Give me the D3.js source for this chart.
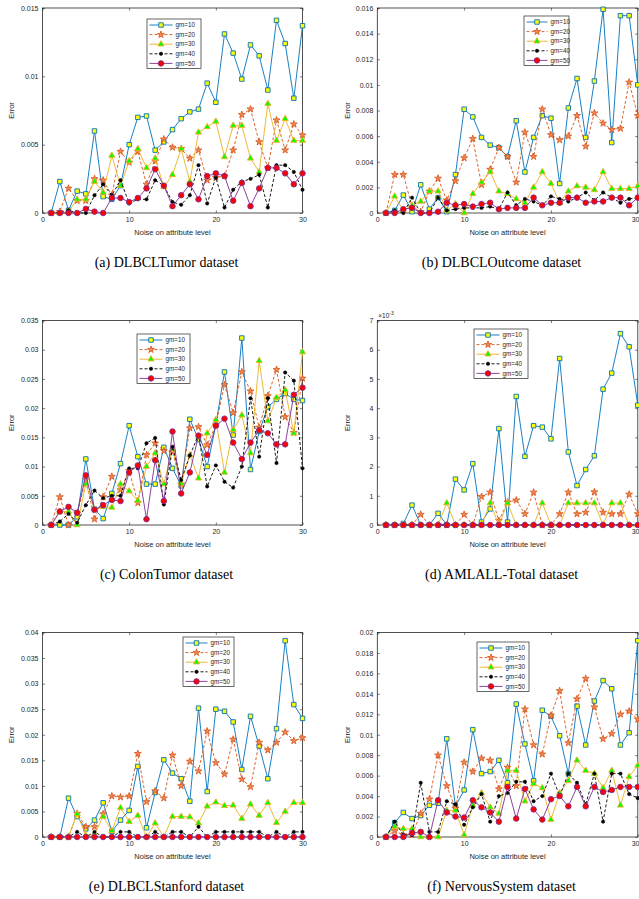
<!DOCTYPE html>
<html><head><meta charset="utf-8">
<script src="https://cdn.jsdelivr.net/npm/d3@7"></script>
<style>body{margin:0;background:#fff}svg{display:block}</style>
</head><body>
<svg id="chart" width="639" height="899"></svg>
<script>
// ---------- DATA ----------
const noise = d3.range(1, 31);
const xTicks = [0, 10, 20, 30];
const seriesNames = ["gm=10", "gm=20", "gm=30", "gm=40", "gm=50"];
const captions = ["(a) DLBCLTumor dataset", "(b) DLBCLOutcome dataset", "(c) ColonTumor dataset",
                  "(d) AMLALL-Total dataset", "(e) DLBCLStanford dataset", "(f) NervousSystem dataset"];

// (a) DLBCLTumor
const a10 = [0,0.0023,0.0002,0.0016,0.0014,0.006,0.0012,0.001,0.002,0.005,0.007,0.0071,0.0046,0.0052,0.0061,0.0069,0.0074,0.0076,0.0095,0.0081,0.0131,0.0117,0.0098,0.0123,0.0115,0.009,0.0141,0.0124,0.0084,0.0137];
const a20 = [0,0.0001,0.0018,0.0009,0.0009,0.0025,0.0024,0.0013,0.0045,0.0037,0.0045,0.0021,0.0038,0.0054,0.0048,0.0047,0.004,0.0046,0.0024,0.0026,0.0027,0.0046,0.0072,0.0076,0.0052,0.0033,0.0068,0.0046,0.0065,0.0057];
const a30 = [0,0,0.0001,0.001,0.001,0.0023,0.0015,0.0042,0.002,0.0038,0.0047,0.0033,0.004,0.0019,0.0028,0.0047,0.0023,0.0059,0.0063,0.0067,0.0041,0.0064,0.0064,0.004,0.003,0.008,0.0053,0.0069,0.0053,0.0053];
const a40 = [0,0,0.0002,0,0,0.0013,0.0021,0.0013,0.0024,0.0007,0.001,0.001,0.0024,0.002,0.0008,0.0006,0.0013,0.0035,0.0007,0.0026,0.0004,0.0017,0.0023,0.0025,0.0028,0.0004,0.0035,0.0035,0.003,0.0017];
const a50 = [0,0,0,0,0.0003,0.0001,0,0.0011,0.0011,0.0008,0.0011,0.0018,0.0032,0.002,0.0005,0.0013,0.0021,0.001,0.0027,0.0029,0.0027,0.0009,0.0022,0.0005,0.0018,0.0033,0.0033,0.0029,0.0021,0.0029];
const aTicks = [0, 0.005, 0.01, 0.015];
const aTickLabels = ["0", "0.005", "0.01", "0.015"];

// (b) DLBCLOutcome
const b10 = [0,0.0002,0.0014,0.0001,0.0022,0.0003,0.0012,0.0001,0.003,0.0081,0.0075,0.0059,0.0053,0.0051,0.0044,0.0072,0.0032,0.0059,0.0076,0.0074,0.0023,0.0082,0.0105,0.0059,0.0103,0.0159,0.0055,0.0154,0.0154,0.01];
const b20 = [0,0.003,0.003,0.0005,0.0001,0.0017,0.0027,0.001,0.0025,0.0043,0.0058,0.0022,0.0034,0.0051,0.0044,0.0024,0.0063,0.0044,0.0081,0.0061,0.0057,0.006,0.0076,0.0052,0.0078,0.007,0.0065,0.0066,0.0102,0.0076];
const b30 = [0,0.0013,0.0002,0.0006,0.0009,0.0017,0.0017,0.0002,0.0007,0,0.0015,0.0024,0.0032,0.0017,0.0015,0.0011,0.0008,0.002,0.0032,0.0023,0.0008,0.0017,0.0021,0.002,0.0018,0.0032,0.0019,0.0019,0.0019,0.0021];
const b40 = [0,0.0002,0,0.0012,0,0,0.0012,0.0002,0.0003,0.0004,0.0004,0.0004,0.0005,0.0003,0.0016,0.0006,0.0011,0.0009,0.0006,0.0013,0.0011,0.0009,0.0012,0.0016,0.001,0.0016,0.0012,0.0008,0.0011,0.0012];
const b50 = [0,0,0.0003,0.0004,0,0,0.0001,0.0008,0.0006,0.0007,0.0005,0.0007,0.0008,0.0003,0.0004,0.0004,0.0004,0.0012,0.0006,0.0008,0.0008,0.0012,0.0012,0.0008,0.0009,0.0009,0.0012,0.0012,0.0006,0.0012];
const bTicks = [0, 0.002, 0.004, 0.006, 0.008, 0.01, 0.012, 0.014, 0.016];
const bTickLabels = ["0", "0.002", "0.004", "0.006", "0.008", "0.01", "0.012", "0.014", "0.016"];

// (c) ColonTumor
const c10 = [0,0,0,0.0014,0.0113,0.0027,0.0011,0.0054,0.0105,0.017,0.0117,0.007,0.007,0.0133,0.0097,0.0067,0.0181,0.0146,0.01,0.0171,0.0262,0.0154,0.032,0.0095,0.016,0.0202,0.0215,0.0225,0.0215,0.0213];
const c20 = [0,0.0048,0,0.002,0.0078,0.001,0.0048,0.0083,0.006,0.0093,0.0038,0.012,0.014,0.0127,0.0125,0.007,0.0166,0.0168,0.0137,0.0171,0.024,0.0192,0.0262,0.0229,0.0167,0.0221,0.0266,0.0185,0.0158,0.0251];
const c30 = [0,0.0023,0.0023,0,0.007,0.0027,0.0031,0.003,0.007,0.0058,0.0042,0.01,0.0123,0.007,0.013,0.0071,0.012,0.008,0.0157,0.018,0.009,0.0163,0.0188,0.0123,0.0281,0.0178,0.0218,0.0231,0.0157,0.0296];
const c40 = [0,0.0006,0.0019,0.0004,0.0034,0.0059,0.0046,0.005,0.005,0.0097,0.0097,0.014,0.0149,0.0035,0.0134,0.0077,0.0119,0.0154,0.0066,0.0102,0.0074,0.0064,0.01,0.0217,0.0117,0.0217,0.0106,0.0261,0.0247,0.0097];
const c50 = [0,0.0023,0.0031,0.0021,0.0085,0.0026,0.0034,0.0043,0.0041,0.009,0.0102,0.001,0.0111,0.0041,0.016,0.0054,0.009,0.0153,0.012,0.017,0.0182,0.0141,0.0113,0.0141,0.0162,0.0157,0.0138,0.0138,0.0223,0.0235];
const cTicks = [0, 0.005, 0.01, 0.015, 0.02, 0.025, 0.03, 0.035];
const cTickLabels = ["0", "0.005", "0.01", "0.015", "0.02", "0.025", "0.03", "0.035"];

// (d) AMLALL-Total
const d10 = [0,0,0.05e-3,0.68e-3,0,0,0.4e-3,0,1.57e-3,1.2e-3,2.1e-3,0.1e-3,0.55e-3,3.3e-3,0.1e-3,4.4e-3,2.35e-3,3.4e-3,3.35e-3,2.95e-3,5.7e-3,2.5e-3,1.35e-3,1.9e-3,2.37e-3,4.65e-3,5.2e-3,6.55e-3,6.1e-3,4.1e-3];
const d20 = [0,0,0,0,0.36e-3,0,0,0,0,0.36e-3,0,0.97e-3,1.12e-3,0.15e-3,0.78e-3,0.85e-3,0.38e-3,1.12e-3,0,0,0.38e-3,1.12e-3,0.38e-3,0.43e-3,1.13e-3,0.43e-3,0.38e-3,0.38e-3,1.05e-3,0.38e-3];
const d30 = [0,0,0,0,0,0,0,0.75e-3,0,0,0,0,0.75e-3,0,0.75e-3,0,0,0,0.75e-3,0,0,0.75e-3,0.75e-3,0.75e-3,0.75e-3,0,0.75e-3,0.75e-3,0,0];
const d40 = [0,0,0,0,0,0,0,0,0,0,0,0,0,0,0,0,0,0,0,0,0,0,0,0,0,0,0,0,0,0];
const d50 = [0,0,0,0,0,0,0,0,0,0,0,0,0,0,0,0,0,0,0,0,0,0,0,0,0,0,0,0,0,0];
const dTicks = [0, 1e-3, 2e-3, 3e-3, 4e-3, 5e-3, 6e-3, 7e-3];
const dTickLabels = ["0", "1", "2", "3", "4", "5", "6", "7"];

// (e) DLBCLStanford
const e10 = [0,0,0.0076,0.004,0.0016,0.0033,0.0067,0.0011,0.0033,0.0052,0.0138,0.0018,0.0087,0.0151,0.0125,0.0114,0.007,0.0252,0.0089,0.025,0.0246,0.0225,0.0132,0.0236,0.0178,0.0114,0.0212,0.0384,0.0259,0.0232];
const e20 = [0,0,0,0.0046,0.002,0.002,0.0045,0.008,0.0078,0.008,0.0163,0.0069,0.009,0.0076,0.016,0.01,0.0148,0.0129,0.0207,0.0145,0.0123,0.0191,0.0113,0.0098,0.0185,0.017,0.0185,0.0205,0.0188,0.0194];
const e30 = [0,0,0,0.0045,0.0003,0.0005,0.004,0.0012,0.0057,0.003,0.0042,0,0.0027,0,0.004,0.004,0.0039,0.0027,0.006,0.0068,0.0061,0.0062,0.0036,0.0064,0.0042,0.0067,0.0028,0.005,0.0067,0.0067];
const e40 = [0,0,0,0.001,0,0.001,0,0,0.001,0.001,0,0,0.001,0,0.001,0.001,0,0.002,0,0.001,0.001,0.001,0.001,0.001,0.001,0,0.001,0,0.001,0.001];
const e50 = [0,0,0,0,0,0,0,0,0,0,0,0,0,0,0,0,0,0,0,0,0,0,0,0,0,0,0,0,0,0];
const eTicks = [0, 0.005, 0.01, 0.015, 0.02, 0.025, 0.03, 0.035, 0.04];
const eTickLabels = ["0", "0.005", "0.01", "0.015", "0.02", "0.025", "0.03", "0.035", "0.04"];

// (f) NervousSystem
const f10 = [0,0.0014,0.0024,0.0018,0.0021,0.0031,0.0033,0.0096,0.003,0.0046,0.0105,0.0062,0.0064,0.0075,0.0053,0.013,0.0091,0.0055,0.0124,0.0118,0.0099,0.0062,0.0128,0.009,0.0133,0.0153,0.0145,0.009,0.0102,0.0192];
const f20 = [0,0.0006,0.0002,0.0002,0.0023,0.0037,0.008,0.005,0.0028,0.0073,0.0064,0.0077,0.0075,0.0047,0.0068,0.005,0.0125,0.009,0.0081,0.0119,0.0143,0.0092,0.0135,0.0155,0.0127,0.0096,0.0101,0.012,0.0123,0.0115];
const f30 = [0,0.001,0.0008,0.0008,0,0,0,0.0026,0.0026,0.0002,0.0031,0.0043,0.0029,0.0023,0.0065,0.0065,0.0035,0.0052,0.0048,0.0017,0.0043,0.0055,0.0075,0.0065,0.0062,0.0048,0.0065,0.0031,0.0059,0.007];
const f40 = [0,0.0015,0.0002,0.0002,0.0053,0.0005,0.0005,0.0035,0.0032,0.0012,0.0029,0.0042,0.0015,0.004,0.0043,0.0054,0.0054,0.0035,0.004,0.0062,0.004,0.0062,0.0053,0.0032,0.0062,0.0015,0.0062,0.0062,0.0042,0.0038];
const f50 = [0,0,0,0.0004,0.0005,0,0.0036,0.0024,0.002,0.0019,0.0036,0.0029,0.0024,0.0015,0.0049,0.0018,0.0047,0.0027,0.0017,0.0037,0.004,0.003,0.0049,0.003,0.0049,0.0044,0.0046,0.0049,0.0049,0.0049];
const fTicks = [0, 0.002, 0.004, 0.006, 0.008, 0.01, 0.012, 0.014, 0.016, 0.018, 0.02];
const fTickLabels = ["0", "0.002", "0.004", "0.006", "0.008", "0.01", "0.012", "0.014", "0.016", "0.018", "0.02"];

// ---------- LAYOUT / STYLE ----------
const sans = "'Liberation Sans', Arial, Helvetica, sans-serif";
const serif = "'Liberation Serif', 'Times New Roman', serif";
const axisColor = "#262626";

const styles = [
  {line: "#0072BD", dash: null,  sym: d3.symbolSquare,   size: 20, fill: "#FFFF00", stroke: "#0072BD", sw: 0.9},
  {line: "#D95319", dash: "3,2", sym: d3.symbolStar,     size: 15, fill: "#EE8A55", stroke: "#D95319", sw: 0.8},
  {line: "#EDB120", dash: null,  sym: d3.symbolTriangle, size: 16, fill: "#00FF00", stroke: "#EDB120", sw: 0.9},
  {line: "#000000", dash: "3,2", sym: d3.symbolCircle,   size: 9,  fill: "#000000", stroke: "#000000", sw: 0.5},
  {line: "#7E2F8E", dash: null,  sym: d3.symbolCircle,   size: 24, fill: "#FF0000", stroke: "#7E2F8E", sw: 0.9}
];

const panels = [
  {x: 42.5,  y: 8,     w: 260,   h: 205, series: [a10,a20,a30,a40,a50], ticks: aTicks, labels: aTickLabels, leg: {x: 147, y: 19,  w: 54, line: 23}},
  {x: 377.3, y: 8,     w: 260.5, h: 205, series: [b10,b20,b30,b40,b50], ticks: bTicks, labels: bTickLabels, leg: {x: 524, y: 16,  w: 45, line: 21}},
  {x: 42.5,  y: 320.5, w: 260,   h: 204.5, series: [c10,c20,c30,c40,c50], ticks: cTicks, labels: cTickLabels, leg: {x: 137, y: 334, w: 53, line: 23}},
  {x: 377.3, y: 320.5, w: 260.5, h: 204.5, series: [d10,d20,d30,d40,d50], ticks: dTicks, labels: dTickLabels, leg: {x: 474, y: 329, w: 54, line: 23}, exponent: true},
  {x: 42.5,  y: 632.5, w: 260,   h: 204.5, series: [e10,e20,e30,e40,e50], ticks: eTicks, labels: eTickLabels, leg: {x: 183, y: 637, w: 51, line: 22}},
  {x: 377.3, y: 632.5, w: 260.5, h: 204.5, series: [f10,f20,f30,f40,f50], ticks: fTicks, labels: fTickLabels, leg: {x: 477, y: 642, w: 52, line: 23}}
];

const svg = d3.select("#chart");

panels.forEach((p, pi) => {
  const g = svg.append("g");
  const yMax = p.ticks[p.ticks.length - 1];
  const x = d3.scaleLinear().domain([0, 30]).range([p.x, p.x + p.w]);
  const y = d3.scaleLinear().domain([0, yMax]).range([p.y + p.h, p.y]);

  // axes via d3 (ticks pointing inward)
  const tl = 2.6;
  const bottom = g.append("g").attr("transform", `translate(0,${p.y + p.h})`)
    .call(d3.axisBottom(x).tickValues(xTicks).tickSizeInner(-tl).tickSizeOuter(0).tickPadding(4));
  const top = g.append("g").attr("transform", `translate(0,${p.y})`)
    .call(d3.axisTop(x).tickValues(xTicks).tickSizeInner(-tl).tickSizeOuter(0).tickFormat(""));
  const left = g.append("g").attr("transform", `translate(${p.x},0)`)
    .call(d3.axisLeft(y).tickValues(p.ticks).tickSizeInner(-tl).tickSizeOuter(0).tickPadding(4)
      .tickFormat((d, i) => p.labels[i]));
  const right = g.append("g").attr("transform", `translate(${p.x + p.w},0)`)
    .call(d3.axisRight(y).tickValues(p.ticks).tickSizeInner(-tl).tickSizeOuter(0).tickFormat(""));
  [bottom, top, left, right].forEach(a => {
    a.select(".domain").remove();
    a.selectAll("line").attr("stroke", axisColor).attr("stroke-width", 0.6);
    a.selectAll("text").attr("fill", axisColor).style("font-family", sans).style("font-size", "7px");
  });
  // keep the last x label inside the page for right-hand panels
  if (pi % 2 === 1) {
    bottom.selectAll(".tick").filter(d => d === 30).select("text")
      .attr("text-anchor", "end").attr("x", 639 - (p.x + p.w));
  }
  g.append("rect").attr("x", p.x).attr("y", p.y).attr("width", p.w).attr("height", p.h)
    .attr("fill", "none").attr("stroke", axisColor).attr("stroke-width", 0.8);

  // series
  p.series.forEach((vals, si) => {
    const st = styles[si];
    const pts = noise.map((n, i) => [x(n), y(vals[i])]);
    g.append("path").attr("d", d3.line()(pts)).attr("fill", "none")
      .attr("stroke", st.line).attr("stroke-width", 0.9)
      .attr("stroke-dasharray", st.dash);
    const sym = d3.symbol().type(st.sym).size(st.size);
    g.append("g").selectAll("path").data(pts).join("path")
      .attr("d", sym).attr("transform", d => `translate(${d[0]},${d[1]})`)
      .attr("fill", st.fill).attr("stroke", st.stroke).attr("stroke-width", st.sw);
  });

  // axis titles
  g.append("text").attr("x", p.x + p.w / 2).attr("y", p.y + p.h + 22)
    .attr("text-anchor", "middle").attr("fill", axisColor)
    .style("font-family", sans).style("font-size", "7.5px").text("Noise on attribute level");
  const lx = pi % 2 === 0 ? 14 : 350;
  g.append("text").attr("transform", `translate(${lx},${p.y + p.h / 2}) rotate(-90)`)
    .attr("text-anchor", "middle").attr("fill", axisColor)
    .style("font-family", sans).style("font-size", "7.5px").text("Error");

  if (p.exponent) {
    const t = g.append("text").attr("x", p.x + 1).attr("y", p.y - 3).attr("fill", axisColor)
      .style("font-family", sans).style("font-size", "6.5px");
    t.append("tspan").text("\u00d710");
    t.append("tspan").attr("dy", -3).style("font-size", "5px").text("-3");
  }

  // legend
  const L = p.leg, rowH = 9.6;
  g.append("rect").attr("x", L.x).attr("y", L.y).attr("width", L.w).attr("height", 49.5)
    .attr("fill", "#fff").attr("stroke", axisColor).attr("stroke-width", 0.7);
  seriesNames.forEach((name, si) => {
    const st = styles[si];
    const ry = L.y + 6 + si * rowH;
    g.append("line").attr("x1", L.x + 2.5).attr("x2", L.x + 2.5 + L.line).attr("y1", ry).attr("y2", ry)
      .attr("stroke", st.line).attr("stroke-width", 0.9).attr("stroke-dasharray", st.dash);
    g.append("path").attr("d", d3.symbol().type(st.sym).size(st.size)())
      .attr("transform", `translate(${L.x + 2.5 + L.line / 2},${ry})`)
      .attr("fill", st.fill).attr("stroke", st.stroke).attr("stroke-width", st.sw);
    g.append("text").attr("x", L.x + L.line + 5.5).attr("y", ry + 2.2).attr("fill", axisColor)
      .style("font-family", sans).style("font-size", "6.3px").text(name);
  });

  // caption
  g.append("text").attr("x", p.x + p.w / 2 - 6).attr("y", p.y + p.h + 54)
    .attr("text-anchor", "middle").attr("fill", "#000")
    .style("font-family", serif).style("font-size", "14px").text(captions[pi]);
});
</script>
</body></html>
